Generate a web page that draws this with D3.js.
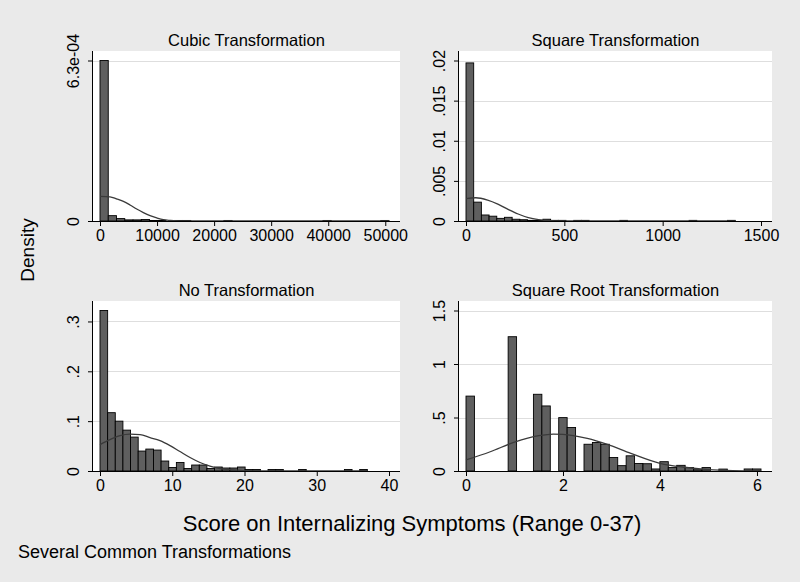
<!DOCTYPE html>
<html>
<head>
<meta charset="utf-8"/>
<title>Several Common Transformations</title>
<script src="https://cdnjs.cloudflare.com/ajax/libs/d3/7.8.5/d3.min.js"></script>
<style>
    body {
        margin: 0;
        background-color: #eaeaea;
        font-family: 'Liberation Sans', Arial, Helvetica, sans-serif;
    }
    svg { display: block; }
    .grid { stroke: #dedede; stroke-width: 1px; }
    .axisline { stroke: #000; stroke-width: 1px; }
    .bar { fill: #5f5f5f; stroke: #000; stroke-width: 0.9px; }
    .curve { fill: none; stroke: #3a3a3a; stroke-width: 1.3px; }
    .tick text { font-size: 16px; fill: #000; }
    .tick line { stroke: #000; }
    .title { font-size: 16.5px; fill: #000; text-anchor: middle; }
</style>
</head>
<body>
<svg id="chart" width="800" height="582"></svg>
<script>
// 35 bins each, densities
const cubicRange = [0, 50653];
const cubicDensity = [6.3e-4, 2.1e-5, 9.5e-6, 4.4e-6, 4.4e-6, 5.9e-6, 2.2e-6, 2.2e-6, 0, 2.2e-6,
    2.2e-6, 0, 0, 0, 0, 2.2e-6, 0, 0, 0, 0,
    0, 0, 0, 0, 0, 0, 0, 2.2e-6, 0, 0,
    0, 0, 0, 0, 2.2e-6];
const cubicCurve = [[0, 9.7e-5], [1750, 9.5e-5], [2900, 8.7e-5], [4100, 7.7e-5], [5260, 6.3e-5],
    [6430, 4.7e-5], [7600, 3.3e-5], [8770, 2.1e-5], [9940, 1.2e-5], [11100, 5e-6],
    [12300, 2.4e-6], [14000, 7e-7], [16000, 0], [50653, 0]];
const cubicXTicks = [0, 10000, 20000, 30000, 40000, 50000];
const cubicYTicks = [0, 6.3e-4];
const cubicYLabels = ["0", "6.3e-04"];

const squareRange = [0, 1369];
const squareDensity = [0.0197, 0.00235, 0.00075, 0.0006, 0.00033, 0.00046, 0.00022, 0.00016, 0.00008, 0.00008,
    0.00022, 0.00008, 0.00008, 0, 0.00008, 0.00008, 0, 0, 0, 0,
    0.00008, 0, 0, 0, 0, 0, 0, 0, 0, 0.00008,
    0, 0, 0, 0, 0.00008];
const squareCurve = [[0, 0.0028], [50, 0.0029], [110, 0.0026], [162, 0.0021], [214, 0.00145],
    [265, 0.00087], [317, 0.00042], [369, 0.00017], [420, 0.00005], [480, 0], [1369, 0]];
const squareXTicks = [0, 500, 1000, 1500];
const squareYTicks = [0, 0.005, 0.01, 0.015, 0.02];
const squareYLabels = ["0", ".005", ".01", ".015", ".02"];

const noneRange = [0, 37];
const noneDensity = [0.322, 0.117, 0.100, 0.082, 0.068, 0.040, 0.044, 0.042, 0.020, 0.007,
    0.017, 0.005, 0.012, 0.012, 0.005, 0.008, 0.006, 0.006, 0.008, 0.003,
    0.003, 0, 0.003, 0.003, 0, 0, 0.003, 0, 0, 0,
    0, 0, 0.003, 0, 0.003];
const noneCurve = [[0, 0.053], [1.38, 0.063], [2.77, 0.071], [4.15, 0.074], [5.54, 0.073],
    [6.92, 0.067], [8.3, 0.061], [9.69, 0.051], [11.07, 0.039], [12.46, 0.027],
    [13.84, 0.017], [15.22, 0.010], [16.6, 0.005], [18, 0.0027], [19.4, 0.0013],
    [22, 0.0003], [25, 0], [37, 0]];
const noneXTicks = [0, 10, 20, 30, 40];
const noneYTicks = [0, 0.1, 0.2, 0.3];
const noneYLabels = ["0", ".1", ".2", ".3"];

const sqrtRange = [0, 6.083];
const sqrtDensity = [0.70, 0, 0, 0, 0, 1.255, 0, 0, 0.717, 0.608,
    0, 0.499, 0.407, 0, 0.25, 0.266, 0.25, 0.126, 0.05, 0.142,
    0.07, 0.068, 0.019, 0.087, 0.032, 0.053, 0.032, 0.012, 0.032, 0,
    0.018, 0, 0, 0.019, 0.019];
const sqrtCurve = [[0, 0.103], [0.5, 0.18], [1.0, 0.27], [1.5, 0.33], [1.8, 0.345],
    [2.0, 0.343], [2.5, 0.305], [2.9, 0.252], [3.4, 0.165], [4.0, 0.072],
    [4.5, 0.035], [5.0, 0.013], [5.5, 0.004], [6.083, 0.001]];
const sqrtXTicks = [0, 2, 4, 6];
const sqrtYTicks = [0, 0.5, 1, 1.5];
const sqrtYLabels = ["0", ".5", "1", "1.5"];

const svg = d3.select("#chart");

const panels = [
    {title: "Cubic Transformation", range: cubicRange, density: cubicDensity, curve: cubicCurve,
     xTicks: cubicXTicks, yTicks: cubicYTicks, yLabels: cubicYLabels, box: [93, 51, 400, 221]},
    {title: "Square Transformation", range: squareRange, density: squareDensity, curve: squareCurve,
     xTicks: squareXTicks, yTicks: squareYTicks, yLabels: squareYLabels, box: [459, 51, 772, 221]},
    {title: "No Transformation", range: noneRange, density: noneDensity, curve: noneCurve,
     xTicks: noneXTicks, yTicks: noneYTicks, yLabels: noneYLabels, box: [93, 301, 400, 471]},
    {title: "Square Root Transformation", range: sqrtRange, density: sqrtDensity, curve: sqrtCurve,
     xTicks: sqrtXTicks, yTicks: sqrtYTicks, yLabels: sqrtYLabels, box: [459, 301, 772, 471]}
];

panels.forEach(p => {
    const [left, top, right, bottom] = p.box;
    const xMax = Math.max(p.range[1], d3.max(p.xTicks));
    const yMax = Math.max(d3.max(p.density), d3.max(p.yTicks));

    const x = d3.scaleLinear().domain([0, xMax]).range([left + 7, right - 11]);
    const y = d3.scaleLinear().domain([0, yMax]).range([bottom, top + 9.5]);

    const g = svg.append("g");

    g.append("rect")
        .attr("x", left).attr("y", top)
        .attr("width", right - left).attr("height", bottom - top)
        .attr("fill", "#fff");

    g.selectAll(".grid")
        .data(p.yTicks.filter(t => t > 0))
        .enter().append("line")
        .attr("class", "grid")
        .attr("x1", left).attr("x2", right)
        .attr("y1", d => Math.round(y(d)) + 0.5).attr("y2", d => Math.round(y(d)) + 0.5);

    const binW = (p.range[1] - p.range[0]) / p.density.length;
    const bins = p.density.map((v, i) => ({x0: p.range[0] + i * binW, x1: p.range[0] + (i + 1) * binW, v: v}))
        .filter(b => b.v > 0);

    g.selectAll(".bar")
        .data(bins)
        .enter().append("rect")
        .attr("class", "bar")
        .attr("x", d => x(d.x0))
        .attr("width", d => x(d.x1) - x(d.x0))
        .attr("y", d => y(d.v))
        .attr("height", d => Math.max(0.6, y(0) - y(d.v)));

    const line = d3.line()
        .x(d => x(d[0]))
        .y(d => y(d[1]))
        .curve(d3.curveMonotoneX);

    g.append("path")
        .attr("class", "curve")
        .attr("d", line(p.curve));

    // axes
    g.append("g")
        .attr("transform", `translate(0,${bottom})`)
        .call(d3.axisBottom(x).tickValues(p.xTicks).tickSize(5).tickSizeOuter(0).tickPadding(4)
            .tickFormat(d3.format("d")))
        .call(a => a.select(".domain").remove());

    const ya = g.append("g")
        .attr("transform", `translate(${left},0)`)
        .call(d3.axisLeft(y).tickValues(p.yTicks).tickSize(5).tickSizeOuter(0)
            .tickFormat((d, i) => p.yLabels[i]))
        .call(a => a.select(".domain").remove());

    ya.selectAll(".tick text")
        .attr("x", null).attr("dy", null)
        .attr("text-anchor", "middle")
        .attr("transform", "translate(-20,0) rotate(-90)")
        .attr("dy", "0.35em");

    g.append("line").attr("class", "axisline")
        .attr("x1", left).attr("x2", right)
        .attr("y1", bottom + 0.5).attr("y2", bottom + 0.5);
    g.append("line").attr("class", "axisline")
        .attr("x1", left - 0.5).attr("x2", left - 0.5)
        .attr("y1", top).attr("y2", bottom + 1);

    g.append("text")
        .attr("class", "title")
        .attr("x", (left + right) / 2)
        .attr("y", top - 5)
        .text(p.title);
});

svg.append("text")
    .attr("transform", "translate(34,250) rotate(-90)")
    .attr("text-anchor", "middle")
    .style("font-size", "19px")
    .text("Density");

svg.append("text")
    .attr("x", 412).attr("y", 531)
    .attr("text-anchor", "middle")
    .style("font-size", "22px")
    .text("Score on Internalizing Symptoms (Range 0-37)");

svg.append("text")
    .attr("x", 18).attr("y", 558)
    .style("font-size", "18px")
    .text("Several Common Transformations");
</script>
</body>
</html>
